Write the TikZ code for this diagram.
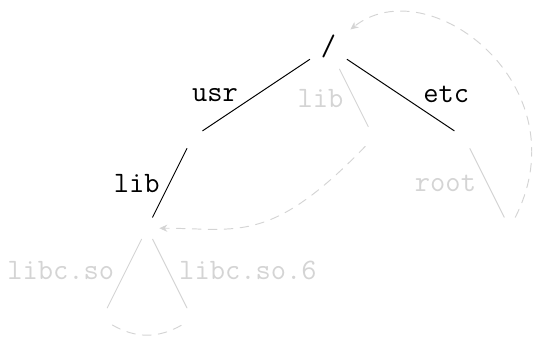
\documentclass[tikz,border=0pt]{standalone}
\usetikzlibrary{arrows.meta}
\begin{document}
\begin{tikzpicture}[font=\fontsize{18.6}{21}\selectfont\ttfamily, line width=.6pt, line join=round, line cap=round, >={Stealth[length=5pt,width=4.5pt]},
    dirnode/.style={circle,inner sep=0pt,minimum size=14.8pt},
    dimmed/.style={black!17},
    symlink/.style={dimmed,dash pattern=on 5.5pt off 4.5pt}]
    \useasboundingbox (-7.245,-6.378) rectangle (4.624,1.035);
    % directories
    \node[circle,inner sep=0pt,minimum size=27.6pt] (R) at (0,0) {/};
    \foreach \n/\x/\y in {U/-3/-2,L/1/-2,E/3/-2,UL/-4/-4,ER/4/-4,S1/-5/-6,S2/-3/-6}
    \node[dirnode] (\n) at (\x,\y) {};
    \draw (R)--(U)--(UL) (R)--(E);
    \draw[dimmed,shorten <=1.5pt] (R)--(L);
    \draw[dimmed] (E)--(ER) (UL)--(S1) (UL)--(S2);
    % names
    \foreach \n/\t/\x/\y in {Tusr/usr/-2.502/-1.209,Tetc/etc/2.599/-1.231,Tulib/lib/-4.227/-3.216}
    \node[anchor=base] (\n) at (\x,\y) {\t};
    \foreach \n/\t/\x/\y in {Tlib/lib/-0.174/-1.332,Troot/root/2.583/-3.194,Tso/libc.so/-5.903/-5.142,Tsix/libc.so.6/-1.776/-5.142}
    \node[anchor=base,dimmed] (\n) at (\x,\y) {\t};
    % links
    \draw[symlink,->] (L) .. controls +(226:3.3) and +(2,0) .. (UL);
    \draw[symlink,->,shorten >=3.5pt] (ER) .. controls +(1.6,3.15) and +(2.2,1.74) .. (R);
    \draw[symlink] (S1) to[out=-30,in=210] (S2);
\end{tikzpicture}
\end{document}
